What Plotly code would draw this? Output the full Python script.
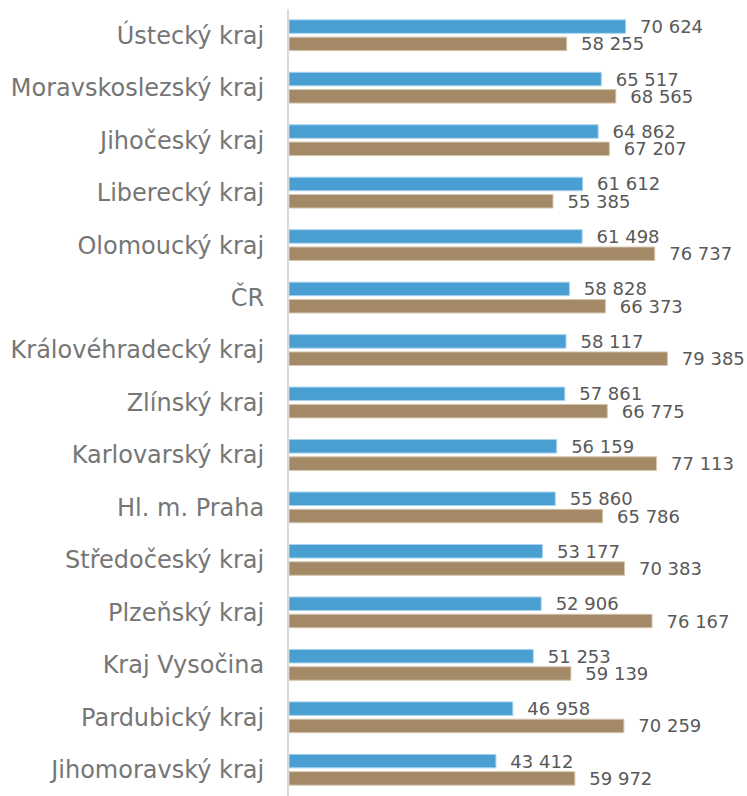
import plotly.graph_objects as go

regions = [
    "Ústecký kraj", "Moravskoslezský kraj", "Jihočeský kraj", "Liberecký kraj",
    "Olomoucký kraj", "ČR", "Královéhradecký kraj", "Zlínský kraj",
    "Karlovarský kraj", "Hl. m. Praha", "Středočeský kraj", "Plzeňský kraj",
    "Kraj Vysočina", "Pardubický kraj", "Jihomoravský kraj",
]
series_blue = [70624, 65517, 64862, 61612, 61498, 58828, 58117, 57861,
               56159, 55860, 53177, 52906, 51253, 46958, 43412]
series_brown = [58255, 68565, 67207, 55385, 76737, 66373, 79385, 66775,
                77113, 65786, 70383, 76167, 59139, 70259, 59972]

label_font = dict(family="DejaVu Sans", size=18, color="#595959")

fig = go.Figure()
fig.add_trace(go.Bar(
    y=regions, x=series_blue, orientation="h", name="řada 1",
    marker=dict(color="#4a9fd2", line=dict(color="#a9d3ee", width=1)),
    texttemplate="\u00a0\u00a0%{x:,d}", textposition="outside",
    textfont=label_font, constraintext="none", cliponaxis=False,
))
fig.add_trace(go.Bar(
    y=regions, x=series_brown, orientation="h", name="řada 2",
    marker=dict(color="#a48966", line=dict(color="#d6c6b0", width=1)),
    texttemplate="\u00a0\u00a0%{x:,d}", textposition="outside",
    textfont=label_font, constraintext="none", cliponaxis=False,
))

fig.update_layout(
    width=747, height=796,
    margin=dict(l=289, r=29, t=9, b=0, autoexpand=False),
    barmode="group", bargap=0.34, bargroupgap=0.22,
    separators=", ",
    showlegend=False,
    plot_bgcolor="white", paper_bgcolor="white",
    xaxis=dict(range=[0, 90000], showticklabels=False, showgrid=False,
               zeroline=False, showline=False),
    yaxis=dict(autorange="reversed", showline=True, linecolor="#d9d9d9",
               linewidth=2, ticks="", ticklabelstandoff=18, automargin=False,
               tickfont=dict(family="DejaVu Sans", size=24, color="#767676")),
)

# drop the default page margin so the figure fills the window exactly
fig.write_html("out.html", config={"displayModeBar": False},
               post_script="document.body.style.margin='0';"
               "document.body.style.overflow='hidden';")
